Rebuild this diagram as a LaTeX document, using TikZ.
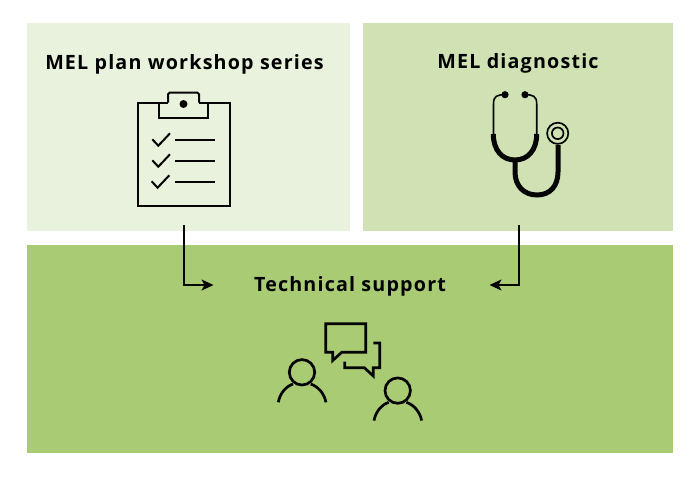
\documentclass[tikz,border=0pt]{standalone}
\usepackage{fontspec}
\setmainfont[LetterSpace=6,Ligatures=NoCommon]{Open Sans}
\usetikzlibrary{arrows.meta}
\definecolor{paleG}{HTML}{E9F2DC}
\definecolor{midG}{HTML}{D0E2B3}
\definecolor{deepG}{HTML}{A8CB74}
\definecolor{ink}{HTML}{050505}
\tikzset{
  panel/.style={draw=none,minimum width=#1,inner sep=0pt,outer sep=0pt},
  title/.style={anchor=base,inner sep=0pt,text=black,font=\fontsize{19.7}{22}\selectfont\bfseries},
  icon/.style={draw=ink,line width=2pt,line join=miter},
  iconbold/.style={draw=ink,line width=2.7pt,line join=miter},
  iconthin/.style={draw=ink,line width=1.6pt,line cap=round},
  flow/.style={draw=ink,line width=1.5pt,-{Stealth[length=12pt,width=11pt,inset=3pt]}}
}
\begin{document}
\begin{tikzpicture}[x=1pt,y=-1pt]
\useasboundingbox (0,0) rectangle (700,476);
\fill[white] (0,0) rectangle (700,476);
\node[panel=323pt,minimum height=208pt,fill=paleG,anchor=north west] (planbox) at (27,23) {};
\node[panel=310pt,minimum height=208pt,fill=midG,anchor=north west] (diagbox) at (363,23) {};
\node[panel=646pt,minimum height=208pt,fill=deepG,anchor=north west] (supportbox) at (27,245) {};
\node[title] (plantitle) at (184.5,69.3) {MEL plan workshop series};
\node[title] (diagtitle) at (518,68.8) {MEL diagnostic};
\node[title] (supporttitle) at (350,291.3) {Technical support};
% clipboard
\draw[icon] (158.7,102.7) -- (137.5,102.7) -- (137.5,206) -- (230,206) -- (230,102.7) -- (208,102.7);
\draw[icon] (168,102.7) -- (158.7,102.7) -- (158.7,118) -- (208,118) -- (208,102.7) -- (199,102.7);
\draw[icon,rounded corners=1.5pt] (199,102.7) -- (199,92.7) -- (168,92.7) -- (168,102.7);
\fill[ink] (183.5,104) circle (4);
\foreach \dy/\dx in {0/0,21/0,42/-0.7}{
  \draw[icon] (152.3+\dx,139.3+\dy) -- (158.3+\dx,145.7+\dy) -- (170+\dx,133.3+\dy);
  \draw[icon] (175,140.3+\dy) -- (215,140.3+\dy);
}
% stethoscope
\draw[iconthin] (505,94.7) .. controls (497,94.7) and (493.5,96) .. (493.5,104) -- (493.5,136);
\draw[iconthin] (525,94.7) .. controls (533,94.7) and (536.7,96) .. (536.7,104) -- (536.7,136);
\fill[ink] (505,94.7) circle (3.6) (525,94.7) circle (3.6);
\draw[ink,line width=5pt] (493.3,134) .. controls (493.3,150) and (502,160) .. (515,160) .. controls (528,160) and (536.7,150) .. (536.7,134);
\draw[ink,line width=5pt] (515,160) -- (515,172) .. controls (515,186) and (524,195) .. (537,195) .. controls (550,195) and (558,186) .. (558,172) -- (558,145);
\draw[icon,line width=1.7pt] (557.7,133.3) circle (10.6) (557.7,133.3) circle (5.8);
% chat bubbles
\draw[iconbold] (325.7,323.7) -- (365.7,323.7) -- (365.7,352.3) -- (341.7,352.3) -- (332.7,360.5) -- (332.7,352.3) -- (325.7,352.3) -- cycle;
\draw[iconbold] (373.3,343) -- (379.7,343) -- (379.7,367.7) -- (373.3,367.7) -- (373.3,376) -- (364.3,367.7) -- (344.7,367.7) -- (344.7,361.7);
% people
\foreach \ox/\oy in {0/0,95.7/18.3}{
  \draw[iconbold] (302+\ox,372.3+\oy) circle (12.7);
  \draw[iconbold] (278.3+\ox,402.3+\oy) .. controls (280+\ox,393+\oy) and (286+\ox,386.5+\oy) .. (293+\ox,384+\oy);
  \draw[iconbold] (326+\ox,402.3+\oy) .. controls (324+\ox,393+\oy) and (318+\ox,386.5+\oy) .. (310.7+\ox,384+\oy);
}
% connectors
\coordinate (planfoot) at (184,225);
\coordinate (diagfoot) at (519,225);
\coordinate (inleft) at (213.5,285);
\coordinate (inright) at (489.5,285);
\draw[flow] (planfoot) |- (inleft);
\draw[flow] (diagfoot) |- (inright);
\end{tikzpicture}
\end{document}
